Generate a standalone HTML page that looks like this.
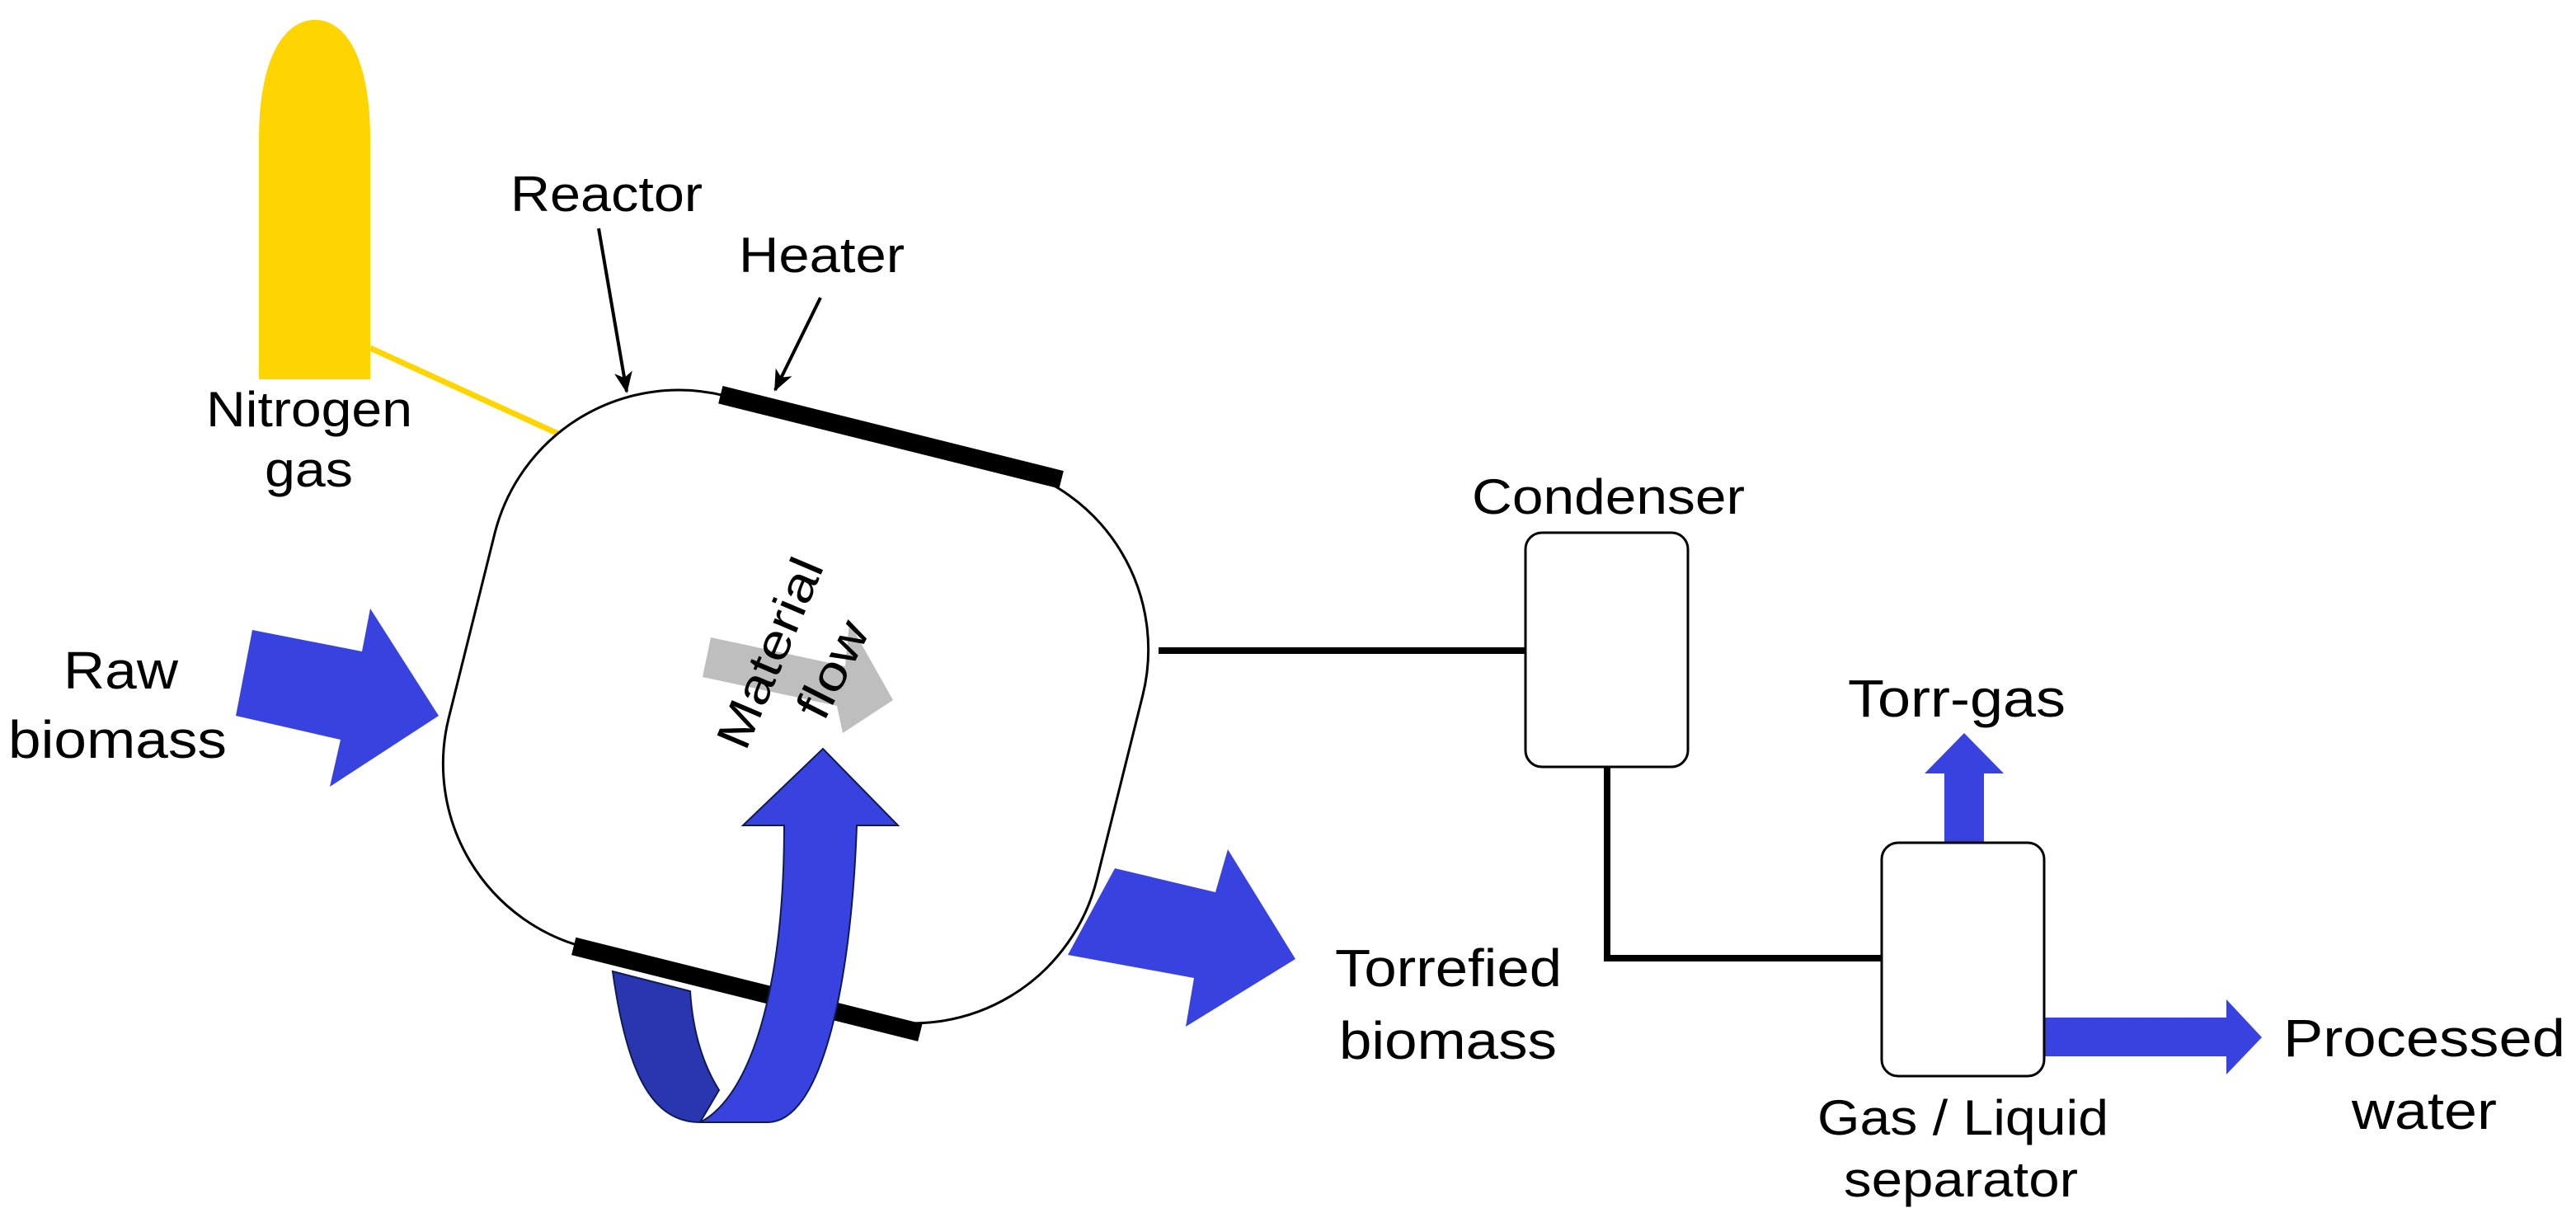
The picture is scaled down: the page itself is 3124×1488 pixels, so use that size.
<!DOCTYPE html>
<html><head><meta charset="utf-8"><style>html,body{margin:0;padding:0;background:#fff}svg{display:block}text{font-family:"Liberation Sans",Arial,sans-serif;fill:#000}</style></head>
<body>
<svg width="3124" height="1488" viewBox="0 0 3124 1488" xmlns="http://www.w3.org/2000/svg">
<defs>
<marker id="ah2" markerWidth="26" markerHeight="26" refX="24" refY="13" orient="auto" markerUnits="userSpaceOnUse"><path d="M0,2 L26,13 L0,24 L7,13 Z" fill="#000"/></marker></defs>

<!-- nitrogen cylinder -->
<path d="M314,460 L314,170 C314,60 350,24 382,24 C414,24 449,60 449,170 L449,460 Z" fill="#FFD500"/>
<line x1="449" y1="422" x2="677" y2="526" stroke="#FFD500" stroke-width="7"/>
<text x="250" y="517" font-size="60" textLength="250" lengthAdjust="spacingAndGlyphs">Nitrogen</text>
<text x="321" y="590" font-size="60" textLength="107" lengthAdjust="spacingAndGlyphs">gas</text>

<!-- raw biomass arrow -->
<polygon points="306,764 439,790 449,738 532,868 400,954 413,897 286,868" fill="#3843DF"/>
<text x="77" y="835" font-size="64" textLength="139" lengthAdjust="spacingAndGlyphs">Raw</text>
<text x="10" y="919" font-size="64" textLength="265" lengthAdjust="spacingAndGlyphs">biomass</text>

<!-- torrefied arrow (under reactor) -->
<polygon points="1352,1053 1474,1082 1489,1030 1571,1163 1438,1245 1448,1186 1295,1158" fill="#3843DF"/>
<text x="1619" y="1196" font-size="64" textLength="275" lengthAdjust="spacingAndGlyphs">Torrefied</text>
<text x="1624" y="1284" font-size="64" textLength="264" lengthAdjust="spacingAndGlyphs">biomass</text>

<!-- loop arrow back part -->
<path d="M743,1178 C760,1300 790,1361 849,1361 L872,1322 C852,1290 840,1250 837,1202 Z" fill="#2A36B0" stroke="#0f1a50" stroke-width="2"/>

<!-- reactor -->
<g transform="translate(965,857) rotate(14)">
<rect x="-405" y="-345" width="810" height="690" rx="230" ry="230" fill="#fff" stroke="#000" stroke-width="3"/>
<line x1="-180" y1="-345" x2="246" y2="-345" stroke="#000" stroke-width="22"/>
<line x1="-191" y1="347" x2="242" y2="347" stroke="#000" stroke-width="22"/>
</g>

<!-- loop arrow front -->
<path d="M849,1361 C910,1330 951,1200 951,1001 L901,1001 L998,908 L1089,1001 L1039,1001 C1032,1200 995,1361 931,1361 Z" fill="#3843DF" stroke="#0f1a50" stroke-width="2"/>

<!-- material flow -->
<polygon points="862,773 1025,808 1030,755 1083,849 1022,889 1015,856 852,821" fill="#BEBEBE"/>
<text transform="translate(934,792) rotate(-67)" text-anchor="middle" dominant-baseline="central" font-size="58" textLength="245" lengthAdjust="spacingAndGlyphs">Material</text>
<text transform="translate(1010,812) rotate(-63)" text-anchor="middle" dominant-baseline="central" font-size="58" textLength="125" lengthAdjust="spacingAndGlyphs">flow</text>

<!-- labels reactor/heater -->
<text x="619" y="256" font-size="60" textLength="233" lengthAdjust="spacingAndGlyphs">Reactor</text>
<line x1="726" y1="277" x2="760" y2="475" stroke="#000" stroke-width="4" marker-end="url(#ah2)"/>
<text x="896" y="330" font-size="60" textLength="201" lengthAdjust="spacingAndGlyphs">Heater</text>
<line x1="995" y1="361" x2="940" y2="473" stroke="#000" stroke-width="4" marker-end="url(#ah2)"/>

<!-- pipes -->
<line x1="1405" y1="789" x2="1852" y2="789" stroke="#000" stroke-width="8"/>
<polyline points="1949,930 1949,1162 2284,1162" fill="none" stroke="#000" stroke-width="8"/>

<!-- condenser -->
<rect x="1850" y="646" width="197" height="284" rx="20" fill="#fff" stroke="#000" stroke-width="3"/>
<text x="1785" y="623" font-size="60" textLength="331" lengthAdjust="spacingAndGlyphs">Condenser</text>

<!-- separator -->
<polygon points="2358,1024 2358,938 2334,938 2382,889 2430,938 2406,938 2406,1024" fill="#3843DF"/>
<text x="2241" y="869" font-size="64" textLength="264" lengthAdjust="spacingAndGlyphs">Torr-gas</text>
<polygon points="2478,1234 2700,1234 2700,1212 2743,1258 2700,1303 2700,1281 2478,1281" fill="#3843DF"/>
<rect x="2282" y="1022" width="197" height="283" rx="20" fill="#fff" stroke="#000" stroke-width="3"/>
<text x="2769" y="1281" font-size="64" textLength="342" lengthAdjust="spacingAndGlyphs">Processed</text>
<text x="2852" y="1369" font-size="64" textLength="176" lengthAdjust="spacingAndGlyphs">water</text>
<text x="2204" y="1376" font-size="60" textLength="353" lengthAdjust="spacingAndGlyphs">Gas / Liquid</text>
<text x="2236" y="1451" font-size="60" textLength="284" lengthAdjust="spacingAndGlyphs">separator</text>
</svg>
</body></html>
